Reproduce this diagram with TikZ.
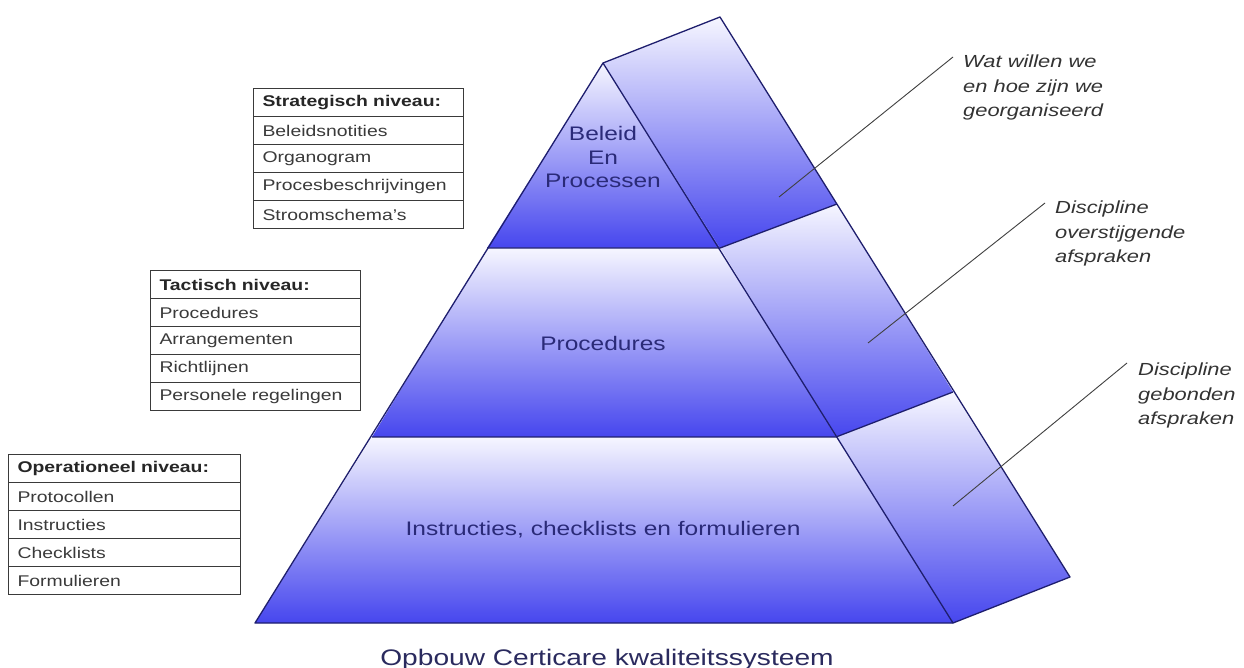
\documentclass[tikz,border=0pt]{standalone}
\usepackage{fontspec}
\setmainfont{Liberation Sans}[FakeStretch=1.25]
\definecolor{edge}{HTML}{1E1E6E}
\definecolor{lite}{HTML}{F6F6FF}
\definecolor{mid}{HTML}{A4A4F6}
\definecolor{deep}{HTML}{4646EE}
\definecolor{pyrtext}{HTML}{2A2A78}
\definecolor{tabline}{HTML}{3A3A3A}
\definecolor{tabtext}{HTML}{3A3A3A}
\definecolor{leader}{HTML}{404040}
\definecolor{captext}{HTML}{2A2A5E}
\begin{document}
\begin{tikzpicture}[x=1pt,y=-1pt,
  band/.style={top color=lite, middle color=mid, bottom color=deep},
  rim/.style={draw=edge, line width=1.3pt, line join=round},
  cell/.style={draw=tabline, line width=1.1pt, anchor=north west, minimum height=28pt,
    text width=#1, inner xsep=9pt, inner ysep=0pt, align=left, text=tabtext,
    font=\fontsize{15.5}{18}\selectfont},
  head/.style={font=\bfseries\fontsize{15.5}{18}\selectfont, text=black!85},
  pyrlabel/.style={text=pyrtext, align=center, inner sep=0pt, font=\fontsize{19.6}{23.5}\selectfont},
  note/.style={anchor=north west, inner sep=0pt, align=left, text=black!80,
    font=\itshape\fontsize{17.5}{24.5}\selectfont},
  leaderline/.style={draw=leader, line width=0.9pt}]
\useasboundingbox (0,0) rectangle (1244,668);
\fill[white] (0,0) rectangle (1244,668);

% pyramid corner points
\coordinate (apex) at (603,63);
\coordinate (backtop) at (720,17);
\coordinate (l1) at (487,248);  \coordinate (r1) at (720,248);
\coordinate (l2) at (372,437);  \coordinate (r2) at (836,437);
\coordinate (l3) at (255,623);  \coordinate (r3) at (953,623);
\coordinate (b1) at (837,204);
\coordinate (b2) at (953,392);
\coordinate (b3) at (1070,577);

% side face bands
\path[band] (apex) -- (backtop) -- (b1) -- (r1) -- cycle;
\path[band] (r1) -- (b1) -- (b2) -- (r2) -- cycle;
\path[band] (r2) -- (b2) -- (b3) -- (r3) -- cycle;
% front bands
\path[band] (apex) -- (r1) -- (l1) -- cycle;
\path[band] (l1) -- (r1) -- (r2) -- (l2) -- cycle;
\path[band] (l2) -- (r2) -- (r3) -- (l3) -- cycle;

% outlines
\draw[rim] (apex) -- (backtop) -- (b3) -- (r3) -- (l3) -- cycle;
\draw[rim] (apex) -- (r3);
\draw[rim] (l1) -- (r1) -- (b1);
\draw[rim] (l2) -- (r2) -- (b2);

% pyramid labels
\node[pyrlabel] (beleid) at (603,157) {Beleid\\En\\Processen};
\node[pyrlabel] (proc) at (603,343) {Procedures};
\node[pyrlabel] (instr) at (603,530) {Instructies, checklists en formulieren};

% leader lines
\coordinate (la1) at (779,197); \coordinate (lb1) at (953,57);
\coordinate (la2) at (868,343); \coordinate (lb2) at (1045,203);
\coordinate (la3) at (953,506); \coordinate (lb3) at (1127,363);
\draw[leaderline] (la1) -- (lb1);
\draw[leaderline] (la2) -- (lb2);
\draw[leaderline] (la3) -- (lb3);

% right notes
\node[note] (n1) at (963,55) {Wat willen we\\en hoe zijn we\\georganiseerd};
\node[note] (n2) at (1055,201) {Discipline\\overstijgende\\afspraken};
\node[note] (n3) at (1138,363) {Discipline\\gebonden\\afspraken};

% strategic table
\node[cell=192pt, head] (s0) at (253,88) {Strategisch niveau:};
\node[cell=192pt] (s1) at (253,116) {Beleidsnotities};
\node[cell=192pt] (s2) at (253,144) {Organogram};
\node[cell=192pt] (s3) at (253,172) {Procesbeschrijvingen};
\node[cell=192pt] (s4) at (253,200) {Stroomschema's};

% tactical table
\node[cell=192pt, head] (t0) at (150,270) {Tactisch niveau:};
\node[cell=192pt] (t1) at (150,298) {Procedures};
\node[cell=192pt] (t2) at (150,326) {Arrangementen};
\node[cell=192pt] (t3) at (150,354) {Richtlijnen};
\node[cell=192pt] (t4) at (150,382) {Personele regelingen};

% operational table
\node[cell=214pt, head] (o0) at (8,454) {Operationeel niveau:};
\node[cell=214pt] (o1) at (8,482) {Protocollen};
\node[cell=214pt] (o2) at (8,510) {Instructies};
\node[cell=214pt] (o3) at (8,538) {Checklists};
\node[cell=214pt] (o4) at (8,566) {Formulieren};

% caption
\node[anchor=base, inner sep=0pt, text=captext, font=\fontsize{22.5}{27}\selectfont] (cap) at (607,665) {Opbouw Certicare kwaliteitssysteem};
\end{tikzpicture}
\end{document}
